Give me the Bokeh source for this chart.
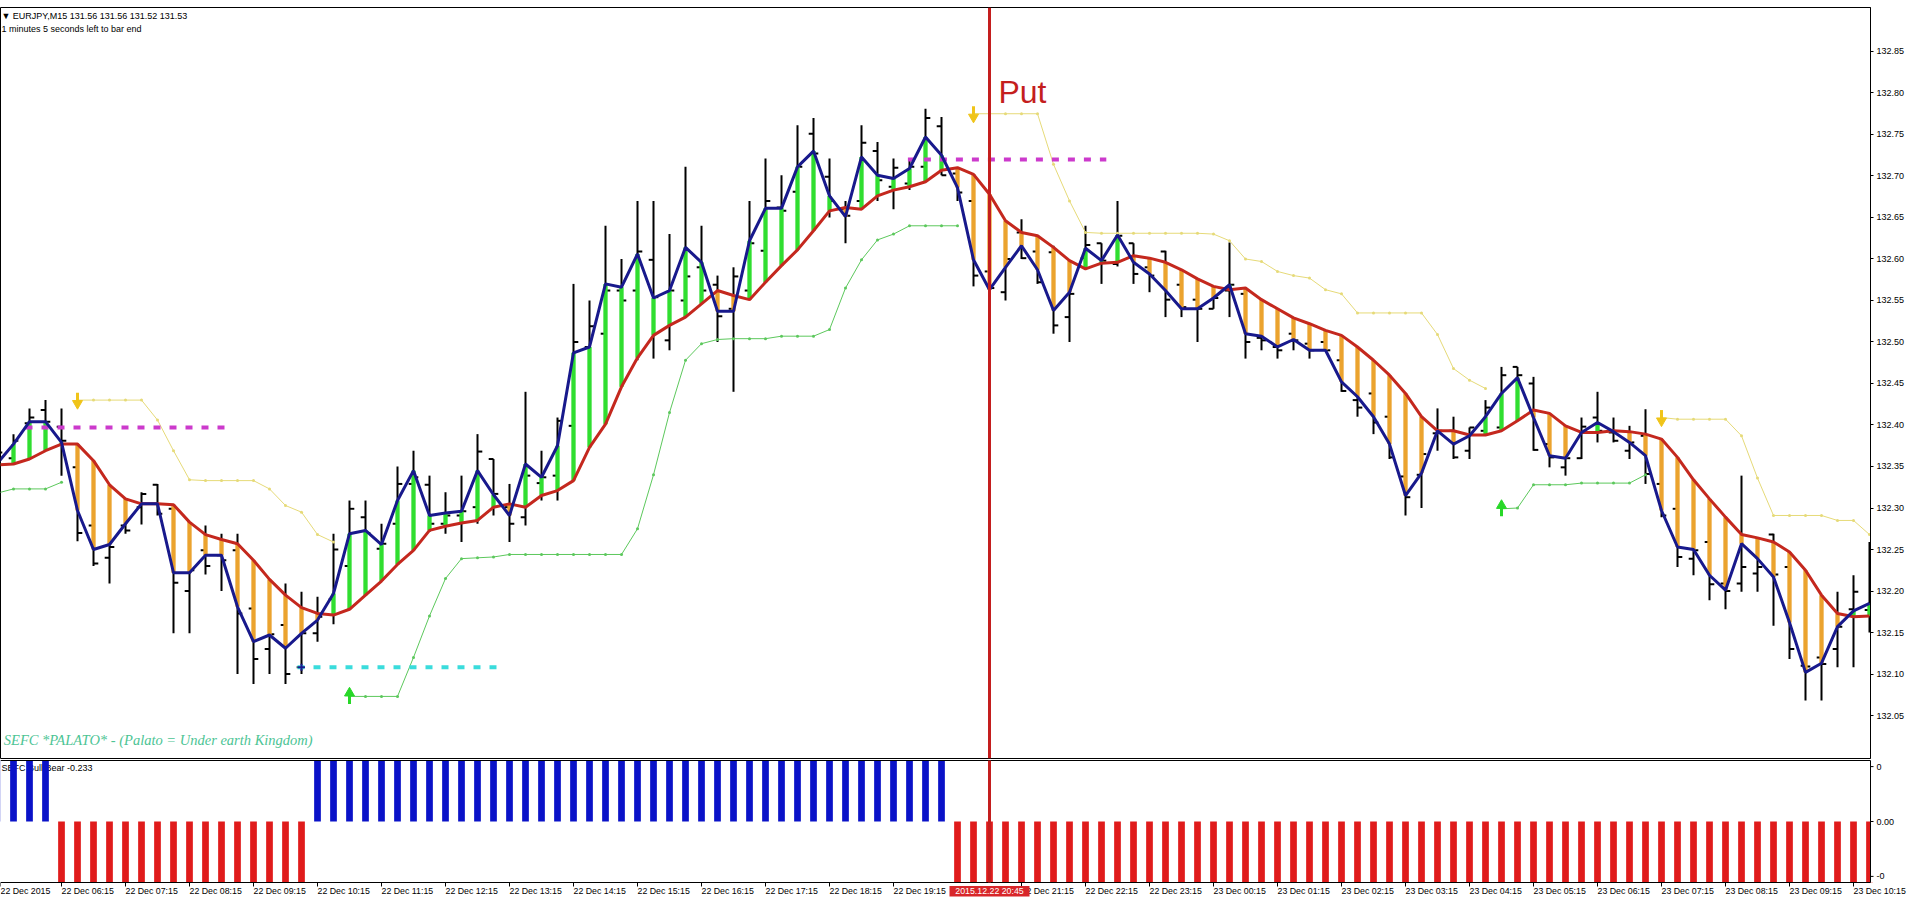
import math
from bokeh.plotting import figure
from bokeh.layouts import column
from bokeh.models import Range1d, FixedTicker, Span, ColumnDataSource, NumeralTickFormatter
from bokeh.core.properties import value
from bokeh.embed import file_html
from bokeh.resources import INLINE

NaN = float("nan")

# ---------------- data (EURJPY M15, bar index 0 = 22 Dec 06:15) ----------------
bar_index = list(range(-4, 114))

open_ = [132.350, 132.360, 132.402, 132.418, 132.398, 132.349, 132.279, 132.240, 132.279, 132.301,
         132.328, 132.299, 132.200, 132.249, 132.243, 132.249, 132.179, 132.130, 132.159, 132.108,
         132.149, 132.190, 132.230, 132.289, 132.251, 132.281, 132.329, 132.328, 132.281, 132.291,
         132.301, 132.359, 132.301, 132.289, 132.330, 132.339, 132.399, 132.494, 132.510, 132.562,
         132.562, 132.599, 132.502, 132.550, 132.590, 132.569, 132.540, 132.562, 132.610, 132.662,
         132.681, 132.751, 132.699, 132.660, 132.670, 132.730, 132.687, 132.691, 132.711, 132.760,
         132.703, 132.670, 132.585, 132.560, 132.632, 132.609, 132.608, 132.530, 132.601, 132.619,
         132.594, 132.619, 132.590, 132.609, 132.569, 132.551, 132.540, 132.562, 132.558, 132.505,
         132.494, 132.510, 132.498, 132.500, 132.478, 132.430, 132.438, 132.410, 132.338, 132.340,
         132.390, 132.393, 132.369, 132.393, 132.397, 132.470, 132.450, 132.377, 132.349, 132.360,
         132.409, 132.391, 132.369, 132.387, 132.329, 132.299, 132.239, 132.259, 132.209, 132.209,
         132.221, 132.268, 132.229, 132.110, 132.120, 132.130, 132.178, 132.177]

high_ = [132.372, 132.389, 132.420, 132.430, 132.420, 132.365, 132.289, 132.257, 132.289, 132.319,
         132.329, 132.299, 132.283, 132.279, 132.269, 132.269, 132.237, 132.161, 132.209, 132.199,
         132.193, 132.269, 132.309, 132.309, 132.281, 132.350, 132.369, 132.339, 132.319, 132.339,
         132.389, 132.359, 132.329, 132.440, 132.369, 132.409, 132.570, 132.550, 132.640, 132.600,
         132.670, 132.670, 132.630, 132.711, 132.640, 132.580, 132.590, 132.670, 132.721, 132.701,
         132.761, 132.770, 132.721, 132.670, 132.761, 132.741, 132.721, 132.721, 132.781, 132.771,
         132.710, 132.691, 132.600, 132.602, 132.648, 132.616, 132.616, 132.562, 132.640, 132.619,
         132.670, 132.619, 132.600, 132.610, 132.582, 132.558, 132.566, 132.620, 132.562, 132.509,
         132.502, 132.510, 132.502, 132.514, 132.508, 132.452, 132.446, 132.410, 132.338, 132.370,
         132.420, 132.410, 132.397, 132.430, 132.470, 132.470, 132.458, 132.381, 132.365, 132.409,
         132.440, 132.409, 132.399, 132.419, 132.345, 132.299, 132.249, 132.259, 132.209, 132.339,
         132.259, 132.269, 132.229, 132.112, 132.120, 132.199, 132.219, 132.259]

low_ = [132.340, 132.355, 132.398, 132.398, 132.339, 132.260, 132.230, 132.209, 132.269, 132.280,
        132.291, 132.149, 132.149, 132.220, 132.200, 132.100, 132.088, 132.100, 132.088, 132.100,
        132.139, 132.160, 132.200, 132.240, 132.237, 132.269, 132.321, 132.271, 132.269, 132.259,
        132.281, 132.291, 132.259, 132.279, 132.309, 132.309, 132.333, 132.460, 132.490, 132.520,
        132.478, 132.480, 132.490, 132.530, 132.554, 132.500, 132.440, 132.554, 132.578, 132.594,
        132.610, 132.634, 132.650, 132.619, 132.660, 132.670, 132.660, 132.683, 132.695, 132.701,
        132.670, 132.567, 132.555, 132.550, 132.600, 132.570, 132.510, 132.500, 132.598, 132.570,
        132.591, 132.570, 132.560, 132.530, 132.530, 132.500, 132.540, 132.530, 132.480, 132.490,
        132.480, 132.490, 132.480, 132.490, 132.440, 132.410, 132.389, 132.359, 132.291, 132.300,
        132.369, 132.359, 132.359, 132.389, 132.393, 132.446, 132.369, 132.349, 132.339, 132.359,
        132.379, 132.379, 132.359, 132.329, 132.289, 132.229, 132.219, 132.189, 132.178, 132.199,
        132.199, 132.158, 132.118, 132.068, 132.068, 132.108, 132.108, 132.150]

close_ = [132.367, 132.381, 132.409, 132.404, 132.381, 132.270, 132.233, 132.253, 132.273, 132.317,
          132.293, 132.210, 132.225, 132.230, 132.237, 132.173, 132.118, 132.148, 132.100, 132.149,
          132.169, 132.250, 132.299, 132.270, 132.257, 132.329, 132.337, 132.281, 132.291, 132.296,
          132.368, 132.317, 132.281, 132.339, 132.337, 132.405, 132.500, 132.519, 132.562, 132.550,
          132.609, 132.554, 132.562, 132.579, 132.562, 132.531, 132.579, 132.619, 132.670, 132.658,
          132.711, 132.727, 132.670, 132.652, 132.740, 132.695, 132.710, 132.711, 132.770, 132.701,
          132.680, 132.580, 132.565, 132.600, 132.601, 132.572, 132.520, 132.558, 132.617, 132.598,
          132.628, 132.582, 132.580, 132.551, 132.542, 132.540, 132.553, 132.569, 132.500, 132.502,
          132.490, 132.502, 132.490, 132.490, 132.441, 132.421, 132.403, 132.361, 132.313, 132.365,
          132.393, 132.361, 132.397, 132.421, 132.460, 132.460, 132.370, 132.361, 132.360, 132.398,
          132.393, 132.381, 132.379, 132.341, 132.291, 132.241, 132.249, 132.208, 132.200, 132.229,
          132.229, 132.220, 132.130, 132.109, 132.112, 132.157, 132.199, 132.185]

fast_line = [132.354, 132.377, 132.404, 132.404, 132.379, 132.297, 132.250, 132.256, 132.281, 132.305,
             132.305, 132.222, 132.222, 132.243, 132.243, 132.181, 132.139, 132.147, 132.131, 132.149,
             132.165, 132.197, 132.269, 132.273, 132.256, 132.309, 132.345, 132.291, 132.294, 132.296,
             132.345, 132.316, 132.291, 132.353, 132.337, 132.375, 132.487, 132.494, 132.570, 132.566,
             132.606, 132.553, 132.562, 132.614, 132.596, 132.537, 132.537, 132.622, 132.661, 132.661,
             132.711, 132.730, 132.676, 132.651, 132.723, 132.701, 132.697, 132.709, 132.747, 132.725,
             132.686, 132.599, 132.563, 132.590, 132.616, 132.587, 132.538, 132.560, 132.613, 132.598,
             132.629, 132.596, 132.582, 132.562, 132.540, 132.540, 132.553, 132.569, 132.510, 132.507,
             132.494, 132.503, 132.490, 132.490, 132.452, 132.434, 132.410, 132.377, 132.315, 132.342,
             132.393, 132.377, 132.387, 132.410, 132.438, 132.457, 132.409, 132.363, 132.360, 132.391,
             132.403, 132.392, 132.379, 132.363, 132.297, 132.253, 132.250, 132.219, 132.201, 132.257,
             132.239, 132.217, 132.162, 132.102, 132.113, 132.157, 132.176, 132.185]

slow_line = [132.352, 132.353, 132.359, 132.369, 132.377, 132.377, 132.357, 132.328, 132.311, 132.305,
             132.305, 132.304, 132.283, 132.268, 132.262, 132.257, 132.237, 132.214, 132.195, 132.180,
             132.173, 132.171, 132.178, 132.195, 132.212, 132.232, 132.249, 132.273, 132.278, 132.282,
             132.285, 132.301, 132.305, 132.301, 132.315, 132.321, 132.333, 132.373, 132.401, 132.446,
             132.481, 132.508, 132.520, 132.530, 132.546, 132.562, 132.556, 132.551, 132.572, 132.592,
             132.611, 132.634, 132.658, 132.662, 132.660, 132.676, 132.683, 132.687, 132.693, 132.707,
             132.710, 132.702, 132.678, 132.646, 132.632, 132.628, 132.614, 132.598, 132.588, 132.595,
             132.596, 132.604, 132.601, 132.596, 132.587, 132.576, 132.567, 132.563, 132.565, 132.551,
             132.540, 132.529, 132.522, 132.514, 132.508, 132.494, 132.478, 132.460, 132.438, 132.410,
             132.393, 132.393, 132.388, 132.388, 132.393, 132.405, 132.418, 132.414, 132.399, 132.391,
             132.391, 132.393, 132.392, 132.389, 132.383, 132.361, 132.334, 132.311, 132.289, 132.268,
             132.264, 132.259, 132.247, 132.225, 132.195, 132.173, 132.169, 132.170]

upper_stop = [NaN, NaN, NaN, NaN, NaN,
              132.430, 132.430, 132.430, 132.430, 132.430, 132.406, 132.369, 132.334, 132.333, 132.333,
              132.333, 132.333, 132.323, 132.303, 132.295, 132.268, 132.259,
              NaN, NaN, NaN, NaN, NaN, NaN, NaN, NaN, NaN, NaN, NaN, NaN, NaN, NaN, NaN, NaN, NaN, NaN,
              NaN, NaN, NaN, NaN, NaN, NaN, NaN, NaN, NaN, NaN, NaN, NaN, NaN, NaN, NaN, NaN, NaN, NaN,
              NaN, NaN, NaN,
              132.775, 132.775, 132.775, 132.775, 132.775, 132.714, 132.670, 132.632, 132.631, 132.631,
              132.631, 132.631, 132.631, 132.631, 132.631, 132.630, 132.622, 132.600, 132.597, 132.585,
              132.580, 132.577, 132.563, 132.558, 132.535, 132.535, 132.535, 132.535, 132.535, 132.509,
              132.468, 132.454, 132.444,
              NaN, NaN, NaN, NaN, NaN, NaN, NaN, NaN, NaN, NaN,
              132.409, 132.407, 132.407, 132.407, 132.407, 132.387, 132.336, 132.291, 132.291, 132.291,
              132.291, 132.285, 132.285, 132.268]

lower_stop = [132.318, 132.323, 132.323, 132.323, 132.331,
              NaN, NaN, NaN, NaN, NaN, NaN, NaN, NaN, NaN, NaN, NaN, NaN, NaN, NaN, NaN, NaN, NaN,
              132.073, 132.073, 132.073, 132.073, 132.120, 132.170, 132.215, 132.239, 132.240, 132.241,
              132.244, 132.244, 132.244, 132.244, 132.244, 132.244, 132.244, 132.244, 132.275, 132.340,
              132.415, 132.478, 132.498, 132.503, 132.504, 132.504, 132.504, 132.507, 132.507, 132.507,
              132.515, 132.565, 132.599, 132.623, 132.630, 132.640, 132.640, 132.640, 132.640,
              NaN, NaN, NaN, NaN, NaN, NaN, NaN, NaN, NaN, NaN, NaN, NaN, NaN, NaN, NaN, NaN, NaN,
              NaN, NaN, NaN, NaN, NaN, NaN, NaN, NaN, NaN, NaN, NaN, NaN, NaN, NaN, NaN, NaN,
              132.299, 132.300, 132.328, 132.328, 132.328, 132.330, 132.330, 132.330, 132.330, 132.340,
              NaN, NaN, NaN, NaN, NaN, NaN, NaN, NaN, NaN, NaN, NaN, NaN, NaN, NaN]

bull_bear = [1, 1, 1, 1,
             -1, -1, -1, -1, -1, -1, -1, -1, -1, -1, -1, -1, -1, -1, -1, -1,
             1, 1, 1, 1, 1, 1, 1, 1, 1, 1, 1, 1, 1, 1, 1, 1, 1, 1, 1, 1,
             1, 1, 1, 1, 1, 1, 1, 1, 1, 1, 1, 1, 1, 1, 1, 1, 1, 1, 1, 1,
             -1, -1, -1, -1, -1, -1, -1, -1, -1, -1, -1, -1, -1, -1, -1, -1, -1, -1, -1, -1,
             -1, -1, -1, -1, -1, -1, -1, -1, -1, -1, -1, -1, -1, -1, -1, -1, -1, -1, -1, -1,
             -1, -1, -1, -1, -1, -1, -1, -1, -1, -1, -1, -1, -1, -1, -1, -1, -1, -1]

# horizontal levels: price, first bar, last bar
level_price = [132.397, 132.720, 132.108]
level_start = [-2.25, 52.9, 14.75]
level_end = [10.25, 65.3, 27.3]
level_color = ["#CC3ACC", "#CC3ACC", "#3ADCDC"]

signal_bar = 58  # vertical "Put" line at 2015.12.22 20:45
signal_label = "2015.12.22 20:45"

price_ticks = [132.05, 132.10, 132.15, 132.20, 132.25, 132.30, 132.35, 132.40, 132.45,
               132.50, 132.55, 132.60, 132.65, 132.70, 132.75, 132.80, 132.85]

indicator_ticks = [0.9, 0.0, -0.9]
indicator_tick_labels = ["0", "0.00", "-0"]

time_tick_bars = [-3.8125, 0, 4, 8, 12, 16, 20, 24, 28, 32, 36, 40, 44, 48, 52,
                  60, 64, 68, 72, 76, 80, 84, 88, 92, 96, 100, 104, 108, 112]
time_tick_labels = ["22 Dec 2015", "22 Dec 06:15", "22 Dec 07:15", "22 Dec 08:15", "22 Dec 09:15",
                    "22 Dec 10:15", "22 Dec 11:15", "22 Dec 12:15", "22 Dec 13:15", "22 Dec 14:15",
                    "22 Dec 15:15", "22 Dec 16:15", "22 Dec 17:15", "22 Dec 18:15", "22 Dec 19:15",
                    "22 Dec 21:15", "22 Dec 22:15", "22 Dec 23:15", "23 Dec 00:15", "23 Dec 01:15",
                    "23 Dec 02:15", "23 Dec 03:15", "23 Dec 04:15", "23 Dec 05:15", "23 Dec 06:15",
                    "23 Dec 07:15", "23 Dec 08:15", "23 Dec 09:15", "23 Dec 10:15"]

# ---------------- figures ----------------
FONT = value("Liberation Sans")
PX_PER_BAR = 16.0
x_start = -3.8125
x_end = 113.0625          # right price-axis position
x_range = Range1d(x_start, x_end)

p = figure(frame_width=1870, frame_height=751, x_range=x_range,
           y_range=Range1d(131.9982, 132.9030), x_axis_location=None, y_axis_location="right",
           output_backend="svg", toolbar_location=None,
           min_border_left=0, min_border_top=7, min_border_bottom=1, min_border_right=0)
p.xgrid.visible = False
p.ygrid.visible = False
p.outline_line_color = "black"
p.background_fill_color = "white"

ya = p.yaxis[0]
ya.ticker = FixedTicker(ticks=price_ticks)
ya.formatter = NumeralTickFormatter(format="0.00")
ya.major_label_text_font = "Liberation Sans"
ya.major_label_text_font_size = "9px"
ya.major_label_text_color = "black"
ya.major_tick_out = 3
ya.major_tick_in = 0
ya.minor_tick_out = 0
ya.minor_tick_in = 0
ya.major_label_standoff = 3
ya.axis_line_color = "black"

src = ColumnDataSource(dict(
    x=bar_index, o=open_, h=high_, l=low_, c=close_,
    xl=[k - 0.3 for k in bar_index], xr=[k + 0.3 for k in bar_index],
    hb=[max(a, b) for a, b in zip(fast_line, slow_line)],
    lb=[min(a, b) for a, b in zip(fast_line, slow_line)],
    hc=["#30DE30" if a >= b else "#EBA32E" for a, b in zip(fast_line, slow_line)],
    fast=fast_line, slow=slow_line, up=upper_stop, dn=lower_stop,
))

# OHLC bars
p.segment(x0="x", y0="l", x1="x", y1="h", source=src, line_color="black", line_width=2)
p.segment(x0="xl", y0="o", x1="x", y1="o", source=src, line_color="black", line_width=2)
p.segment(x0="x", y0="c", x1="xr", y1="c", source=src, line_color="black", line_width=2)

# histogram between fast and slow lines
p.vbar(x="x", bottom="lb", top="hb", width=0.27, source=src, fill_color="hc", line_color=None)

# stop lines
p.line(x="x", y="up", source=src, line_color="#E6DA78", line_width=1)
p.scatter(x="x", y="up", source=src, marker="circle", size=3, fill_color="#E6DA78", line_color=None)
p.line(x="x", y="dn", source=src, line_color="#5CC85C", line_width=1)
p.scatter(x="x", y="dn", source=src, marker="circle", size=3, fill_color="#5CC85C", line_color=None)

# levels
p.segment(x0=level_start, y0=level_price, x1=level_end, y1=level_price,
          line_color=level_color, line_width=4, line_dash="7 9")
p.scatter(x=[level_start[2] + 0.25], y=[level_price[2]], marker="cross", size=7,
          line_color="#1A1A8F", line_width=2)

# moving lines
p.line(x="x", y="slow", source=src, line_color="#C4281E", line_width=3)
p.line(x="x", y="fast", source=src, line_color="#18198C", line_width=3)

# arrows at the first point of each stop segment
def seg_starts(series):
    out = []
    for i in range(1, len(series)):
        if not math.isnan(series[i]) and math.isnan(series[i - 1]):
            out.append((bar_index[i], series[i]))
    return out

for (bx, by) in seg_starts(upper_stop):
    p.segment(x0=[bx], y0=[by + 0.009], x1=[bx], y1=[by - 0.001], line_color="#F0C419", line_width=3)
    p.scatter(x=[bx], y=[by - 0.004], marker="inverted_triangle", size=10,
              fill_color="#F0C419", line_color="#F0C419")
for (bx, by) in seg_starts(lower_stop):
    p.segment(x0=[bx], y0=[by - 0.009], x1=[bx], y1=[by + 0.001], line_color="#28D828", line_width=3)
    p.scatter(x=[bx], y=[by + 0.004], marker="triangle", size=10,
              fill_color="#28D828", line_color="#28D828")

p.add_layout(Span(location=signal_bar, dimension="height", line_color="#C41E1E", line_width=3))

x_left = x_start + 0.06
p.text(x=[x_left], y=[132.8928], text=["\u25BC EURJPY,M15  131.56 131.56 131.52 131.53"],
       text_font=FONT, text_font_size="9px", text_color="black", text_baseline="middle")
p.text(x=[x_left], y=[132.8769], text=["1 minutes 5 seconds left to bar end"],
       text_font=FONT, text_font_size="9px", text_color="black", text_baseline="middle")
p.text(x=[x_left + 0.15], y=[132.0199], text=["SEFC *PALATO* - (Palato = Under earth Kingdom)"],
       text_font=value("Liberation Serif"), text_font_style="italic", text_font_size="14.5px",
       text_color="#4CC494", text_baseline="middle")
p.text(x=[signal_bar + 0.56], y=[132.801], text=["Put"], text_font=FONT, text_font_size="32px",
       text_color="#C41E1E", text_baseline="middle")

# ---------------- lower indicator panel (frame also holds its axis strips) ----------------
px_per_unit = 61.0
q_width = 1909
q = figure(frame_width=q_width, frame_height=139,
           x_range=Range1d(x_start, x_start + q_width / PX_PER_BAR),
           y_range=Range1d(-1.0 - 16.0 / px_per_unit, 1.0 + 1.0 / px_per_unit),
           x_axis_location=None, y_axis_location=None, output_backend="svg",
           toolbar_location=None,
           min_border_left=0, min_border_top=0, min_border_bottom=0, min_border_right=0)
q.xgrid.visible = False
q.ygrid.visible = False
q.outline_line_color = None

q.text(x=[x_left], y=[0.87], text=["SEFC Bull Bear -0.233"], text_font=FONT,
       text_font_size="9px", text_color="black", text_baseline="middle")

bsrc = ColumnDataSource(dict(x=bar_index, v=bull_bear,
                             col=["#0A12C8" if v > 0 else "#E01B1B" for v in bull_bear]))
q.vbar(x="x", top="v", bottom=0, width=0.42, source=bsrc, fill_color="col", line_color=None)
# keep the strip right of the value axis clear, as in the terminal window
q.quad(left=[x_end], right=[x_end + 0.5], bottom=[-1.0], top=[1.0],
       fill_color="white", line_color=None)

# panel borders and right value axis
q.segment(x0=[x_start, x_start], y0=[1.0, -1.0], x1=[x_end, x_end],
          y1=[1.0, -1.0], line_color="black", line_width=1)
q.segment(x0=[x_end], y0=[1.0], x1=[x_end], y1=[-1.0], line_color="black", line_width=1)
q.segment(x0=[x_end] * len(indicator_ticks), y0=indicator_ticks,
          x1=[x_end + 3.0 / PX_PER_BAR] * len(indicator_ticks), y1=indicator_ticks,
          line_color="black", line_width=1)
q.text(x=[x_end + 6.0 / PX_PER_BAR] * len(indicator_ticks), y=indicator_ticks,
       text=indicator_tick_labels, text_font=FONT, text_font_size="9px", text_color="black",
       text_align="left", text_baseline="middle")
q.segment(x0=[signal_bar], y0=[1.0], x1=[signal_bar], y1=[-1.0], line_color="#C41E1E", line_width=3)

# time axis: tick marks and left-aligned labels below the panel
tick_len = 4.0 / px_per_unit
q.segment(x0=time_tick_bars, y0=[-1.0] * len(time_tick_bars), x1=time_tick_bars,
          y1=[-1.0 - tick_len] * len(time_tick_bars), line_color="black", line_width=1)
label_y = -1.0 - 8.8 / px_per_unit
q.text(x=time_tick_bars, y=[label_y] * len(time_tick_bars), text=time_tick_labels,
       text_font=FONT, text_font_size="8.8px", text_color="black",
       text_align="left", text_baseline="middle")
q.rect(x=[signal_bar], y=[label_y], width=5.0, height=10.4 / px_per_unit,
       fill_color="#D8262A", line_color=None)
q.text(x=[signal_bar], y=[label_y], text=[signal_label], text_font=FONT, text_font_size="8.8px",
       text_color="white", text_align="center", text_baseline="middle")

layout = column(p, q, spacing=0)
open("out.html", "w").write(file_html(layout, INLINE))
